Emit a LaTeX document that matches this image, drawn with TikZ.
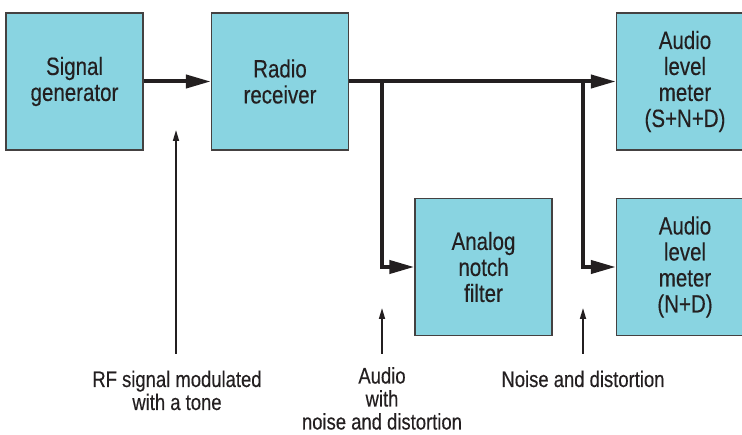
\documentclass[tikz,border=0pt]{standalone}
\usepackage{fontspec}
\setmainfont[FakeStretch=0.82,FakeBold=0.3]{Liberation Sans}
\usetikzlibrary{arrows.meta}
\definecolor{boxfill}{HTML}{89D4E1}
\definecolor{ink}{HTML}{231F20}
\begin{document}
\begin{tikzpicture}[x=1pt,y=-1pt,
 blk/.style={draw=ink!85, line width=1.3pt, fill=boxfill, minimum width=137pt, minimum height=137pt, inner sep=0pt, align=center, text=ink, font=\fontsize{25}{26}\selectfont},
 flow/.style={draw=ink, line width=4pt, line join=miter, -{Triangle[length=25pt,width=13pt]}},
 pointer/.style={draw=ink, line width=1.6pt, -{Triangle[length=11pt,width=6pt]}},
 lbl/.style={align=center, inner sep=0pt, font=\fontsize{22.5}{23}\selectfont, text=ink}]
\useasboundingbox (0,0) rectangle (742,435);
\node[blk] (sg) at (74.5,81.5) {Signal\\generator};
\node[blk] (rr) at (280,81.5) {Radio\\receiver};
\node[blk] (m1) at (685,81.5) {Audio\\level\\meter\\(S+N+D)};
\node[blk] (nf) at (483.5,267) {Analog\\notch\\filter};
\node[blk] (m2) at (685,267) {Audio\\level\\meter\\(N+D)};
\coordinate (j1) at (382,81.5);
\coordinate (j2) at (583,81.5);
\draw[flow] (sg.east) -- (rr.west);
\draw[flow] (rr.east) -- (m1.west);
\draw[flow] (j1) |- (nf.west);
\draw[flow] (j2) |- (m2.west);
\coordinate (p1a) at (176,354);
\coordinate (p1b) at (176,130);
\coordinate (p2a) at (382,354);
\coordinate (p2b) at (382,308);
\coordinate (p3a) at (583,354);
\coordinate (p3b) at (583,308);
\draw[pointer] (p1a) -- (p1b);
\draw[pointer] (p2a) -- (p2b);
\draw[pointer] (p3a) -- (p3b);
\node[lbl, anchor=base] (l1) at (177,410) {RF signal modulated\\with a tone};
\node[lbl, anchor=base] (l2) at (382,429.5) {Audio\\with\\noise and distortion};
\node[lbl, anchor=base] (l3) at (583,387) {Noise and distortion};
\end{tikzpicture}
\end{document}
